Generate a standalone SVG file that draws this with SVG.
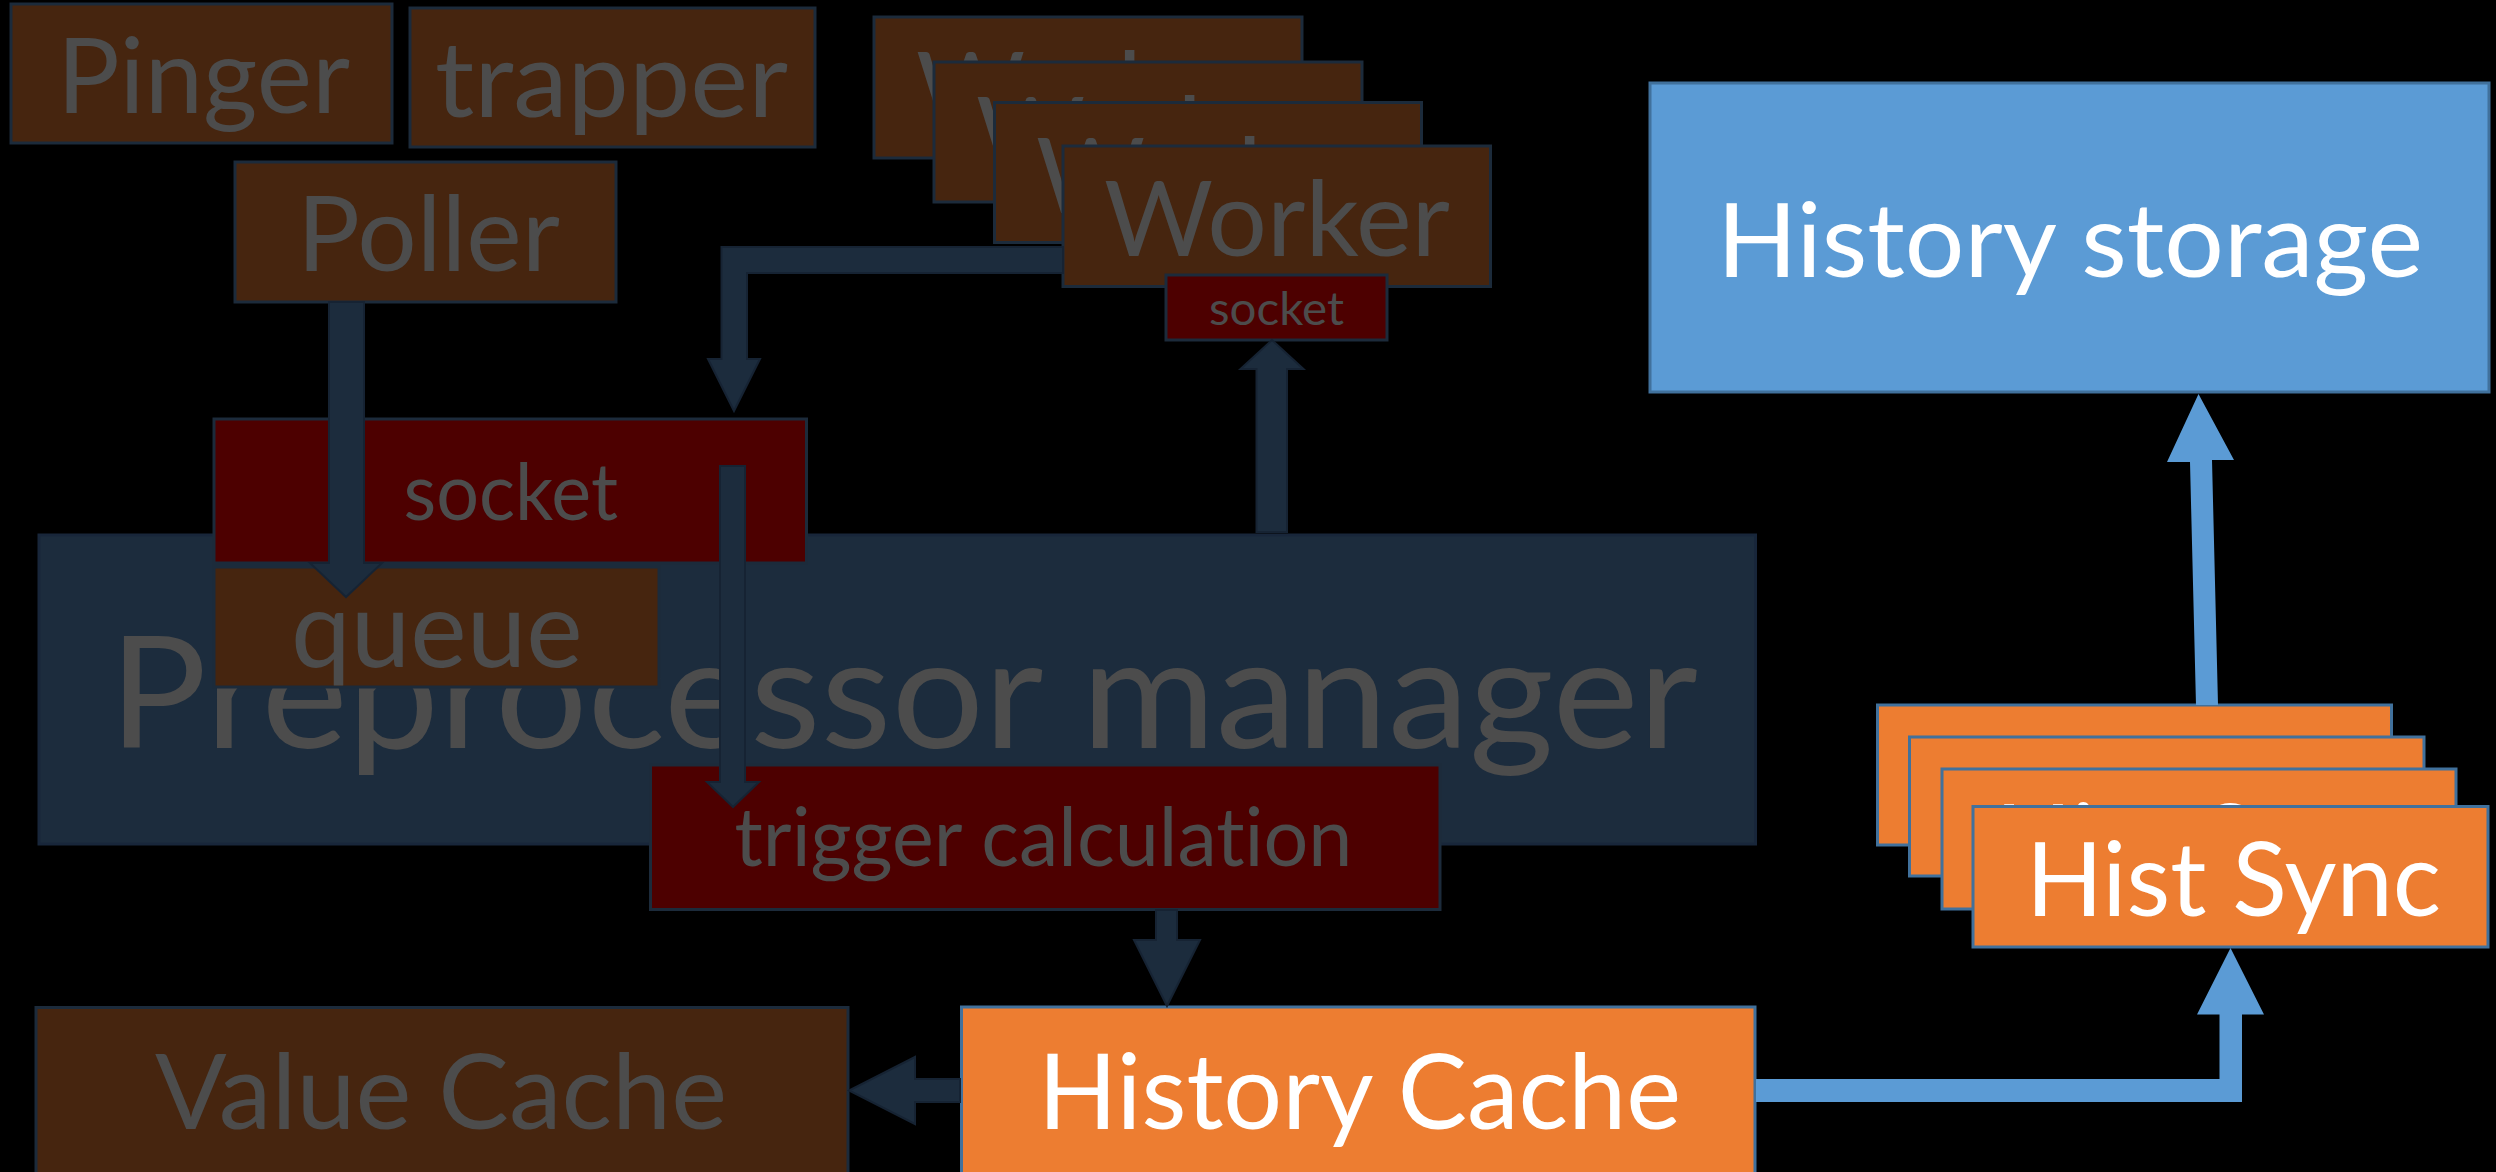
<svg xmlns="http://www.w3.org/2000/svg" width="2496" height="1172" viewBox="0 0 2496 1172">
<style>
  text { font-family: "Lato", "Open Sans", "Liberation Sans", sans-serif; font-variant-ligatures: none; }
  .brown { fill: #46250f; stroke: #1c2b3b; stroke-width: 3; }
  .red { fill: #4d0000; stroke: #1c2b3b; stroke-width: 3; }
  .navy { fill: #1c2c3d; stroke: #18263a; stroke-width: 3; }
  .orange { fill: #ed7d31; stroke: #41719c; stroke-width: 3; }
  .blue { fill: #5b9bd5; stroke: #41719c; stroke-width: 3; }
  .dim { fill: #4c4c4c; }
  .light { fill: #ffffff; }
  .arrow { fill: #1c2c3d; stroke: #162333; stroke-width: 2; }
  .barrow { fill: #5b9bd5; }
</style>
<rect x="0" y="0" width="2496" height="1172" fill="#000000"/>

<g id="pinger">
  <rect class="brown" x="11" y="4" width="381" height="139"/>
  <text class="dim" x="57" y="113" font-size="104" textLength="293" lengthAdjust="spacingAndGlyphs">Pinger</text>
</g>
<g id="trapper">
  <rect class="brown" x="410" y="8" width="405" height="139"/>
  <text class="dim" x="435" y="117" font-size="104" textLength="353" lengthAdjust="spacingAndGlyphs">trapper</text>
</g>
<g id="poller">
  <rect class="brown" x="235" y="162" width="381" height="140"/>
  <text class="dim" x="297" y="271" font-size="104" textLength="263" lengthAdjust="spacingAndGlyphs">Poller</text>
</g>

<g id="worker-1">
  <rect class="brown" x="874" y="17" width="428" height="141"/>
  <text class="dim" x="916" y="127" font-size="104" textLength="346" lengthAdjust="spacingAndGlyphs">Worker</text>
</g>
<g id="worker-2">
  <rect class="brown" x="934" y="62" width="428" height="140"/>
  <text class="dim" x="976" y="172" font-size="104" textLength="346" lengthAdjust="spacingAndGlyphs">Worker</text>
</g>
<g id="worker-3">
  <rect class="brown" x="994.5" y="102.5" width="427" height="140"/>
  <text class="dim" x="1036" y="212.5" font-size="104" textLength="346" lengthAdjust="spacingAndGlyphs">Worker</text>
</g>
<g id="worker-4">
  <rect class="brown" x="1063" y="146" width="427.5" height="140.5"/>
  <text class="dim" x="1104" y="256" font-size="104" textLength="346" lengthAdjust="spacingAndGlyphs">Worker</text>
</g>
<g id="worker-socket">
  <rect class="red" x="1166" y="275" width="221" height="65"/>
  <text class="dim" x="1209" y="324.5" font-size="47" textLength="135" lengthAdjust="spacingAndGlyphs">socket</text>
</g>

<g id="preprocessor-manager">
  <rect class="navy" x="39" y="535" width="1716.5" height="309"/>
  <text class="dim" x="109" y="748" font-size="155" textLength="1589" lengthAdjust="spacingAndGlyphs">Preprocessor manager</text>
</g>
<g id="socket">
  <rect class="red" x="214" y="419" width="592.5" height="144"/>
  <text class="dim" x="403.5" y="520" font-size="79" textLength="214.5" lengthAdjust="spacingAndGlyphs">socket</text>
</g>
<g id="queue">
  <rect class="brown" x="214" y="567" width="445" height="120"/>
  <text class="dim" x="291" y="667" font-size="106" textLength="291.5" lengthAdjust="spacingAndGlyphs">queue</text>
</g>
<g id="trigger-calculation">
  <rect class="red" x="650.5" y="765" width="789.5" height="144.5"/>
  <text class="dim" x="734.5" y="866" font-size="82" textLength="618" lengthAdjust="spacingAndGlyphs">trigger calculation</text>
</g>

<g id="value-cache">
  <rect class="brown" x="36" y="1007.5" width="812" height="170"/>
  <text class="dim" x="155" y="1129" font-size="104" textLength="572" lengthAdjust="spacingAndGlyphs">Value Cache</text>
</g>
<g id="history-cache">
  <rect class="orange" x="961.5" y="1007" width="793.5" height="170"/>
  <text class="light" x="1038" y="1129" font-size="104" textLength="643" lengthAdjust="spacingAndGlyphs">History Cache</text>
</g>

<g id="history-storage">
  <rect class="blue" x="1650" y="83" width="839" height="309"/>
  <text class="light" x="1717" y="277" font-size="103" textLength="706" lengthAdjust="spacingAndGlyphs">History storage</text>
</g>

<g id="hist-sync-1">
  <rect class="orange" x="1877.5" y="705" width="514" height="140"/>
  <text class="light" x="1930.5" y="814" font-size="103" textLength="415" lengthAdjust="spacingAndGlyphs">Hist Sync</text>
</g>
<g id="hist-sync-2">
  <rect class="orange" x="1909.5" y="737" width="514.5" height="139"/>
  <text class="light" x="1962.5" y="846" font-size="103" textLength="415" lengthAdjust="spacingAndGlyphs">Hist Sync</text>
</g>
<g id="hist-sync-3">
  <rect class="orange" x="1942" y="769" width="514" height="140"/>
  <text class="light" x="1995" y="878" font-size="103" textLength="415" lengthAdjust="spacingAndGlyphs">Hist Sync</text>
</g>
<g id="hist-sync-4">
  <rect class="orange" x="1973" y="806.5" width="515" height="140.5"/>
  <text class="light" x="2026" y="915.5" font-size="103" textLength="415" lengthAdjust="spacingAndGlyphs">Hist Sync</text>
</g>

<g id="connectors">
  <polygon class="arrow" points="329,302 364,302 364,563 382,563 346,597 310,563 329,563"/>
  <polygon class="arrow" points="1063,247 721.5,247 721.5,359 708,359 734,411 760,359 747,359 747,273 1063,273"/>
  <polygon class="arrow" points="720,466 745,466 745,782 759,782 733,807 707,782 720,782"/>
  <polygon class="arrow" points="1256.5,532 1256.5,369 1240.5,369 1272,340 1303.5,369 1287,369 1287,532"/>
  <polygon class="arrow" points="1156,910 1177,910 1177,940 1200,940 1167,1006 1134,940 1156,940"/>
  <polygon class="arrow" points="960,1079 915,1079 915,1057 849,1090.5 915,1124 915,1102 960,1102"/>
  <polygon class="barrow" points="1756,1079 2219.5,1079 2219.5,1014.5 2197,1014.5 2230.5,948 2264,1014.5 2242,1014.5 2242,1102 1756,1102"/>
  <polygon class="barrow" points="2196,705 2190,462 2167,462 2198.5,394 2234,460 2212,460 2218,705"/>
</g>
</svg>
